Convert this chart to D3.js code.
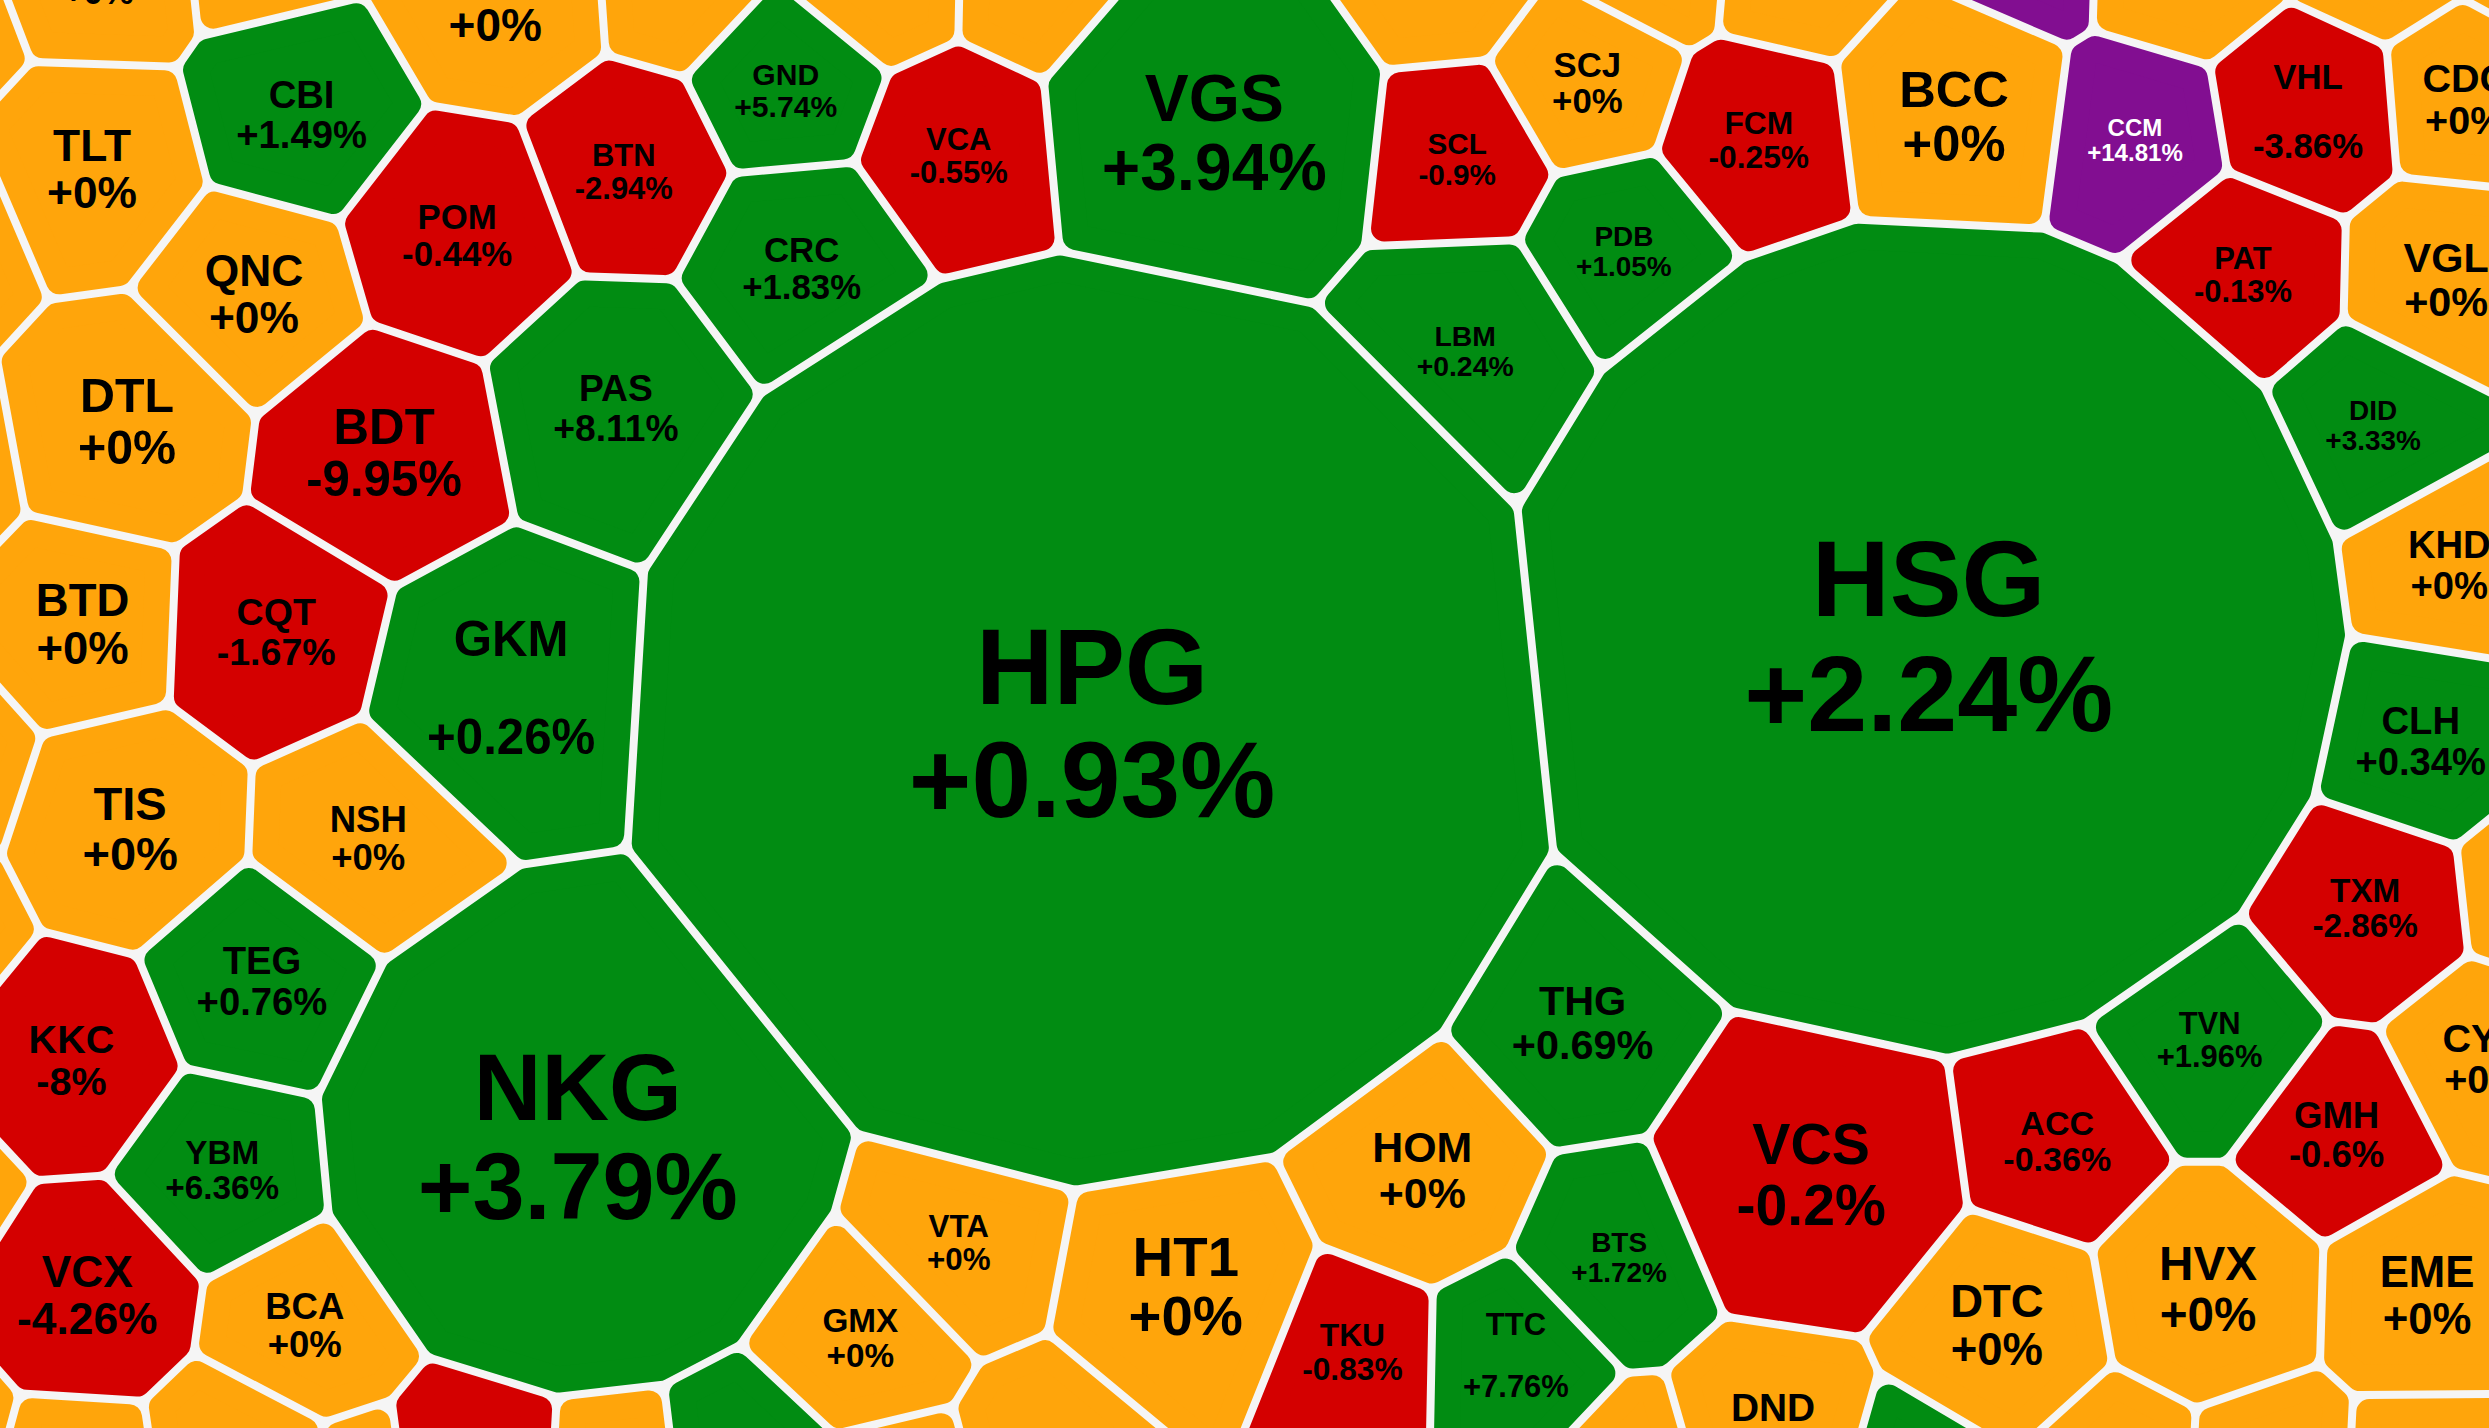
<!DOCTYPE html>
<html>
<head>
<meta charset="utf-8">
<script src="https://cdn.jsdelivr.net/npm/d3@7/dist/d3.min.js"></script>
<style>
  html, body { margin: 0; padding: 0; background: #f5f5f5; overflow: hidden; }
  svg { display: block; }
  text { font-family: "Liberation Sans", Arial, sans-serif; font-weight: bold; }
</style>
</head>
<body>
<svg id="chart"></svg>
<script>
// ---- data ----
// tickers ("" = ticker outside the frame but value visible, null = no visible label)
const tickers = [
  "HPG","HSG","NKG","VGS","VCS","GKM","HT1","THG","HOM","BTS",
  "TKU","TTC","VTA","GMX","DND","DTC","HVX","EME","ACC","TVN",
  "GMH","TXM","CLH","KHD","DID","VGL","PAT","VHL","CDC","CCM",
  "BCC","FCM","SCJ","SCL","PDB","LBM","VCA","GND","CRC","BTN",
  "PAS","CBI","POM","TLT","QNC","DTL","BDT","BTD","CQT","TIS",
  "NSH","TEG","KKC","YBM","VCX","BCA","CYC",
  // partially visible neighbours (top, right, bottom, left edges)
  "",null,"",null,null,null,null,null,null,null,null,null,null,
  null,
  null,null,null,null,null,null,null,null,null,null,null,null,null,
  null,null,null,null,null,null,null
];
// % change for the session
const changes = [
  0.93, 2.24, 3.79, 3.94, -0.2, 0.26, 0, 0.69, 0, 1.72,
  -0.83, 7.76, 0, 0, 0, 0, 0, 0, -0.36, 1.96,
  -0.6, -2.86, 0.34, 0, 3.33, 0, -0.13, -3.86, 0, 14.81,
  0, -0.25, 0, -0.9, 1.05, 0.24, -0.55, 5.74, 1.83, -2.94,
  8.11, 1.49, -0.44, 0, 0, 0, -9.95, 0, -1.67, 0,
  0, 0.76, -8, 6.36, -4.26, 0, 0,
  0, 0, 0, 0, 0, 0, 0, 0, 0, 14.9, 0, 0, 0,
  0,
  0, 0, 0, -1, 0, 1, 0, 0, 0, 1, 0, 0, 0,
  0, 0, 0, 0, 0, 0, 0
];
// relative weight of each stock (drives label size)
const weights = [
  45.6, 46.2, 34.8, 17.2, 13, 9.6, 12.6, 6.8, 7.3, 3.1,
  4, 3.8, 3.9, 4.4, 6, 8.2, 9, 7.6, 4.6, 3.8,
  5.3, 4.4, 5.8, 5.8, 3.1, 6.8, 3.8, 4.8, 6.2, 2.3,
  10.2, 4, 4.8, 3.5, 3.1, 3.2, 3.8, 3.6, 4.8, 3.8,
  5.5, 5.8, 4.8, 7.8, 7.8, 9.3, 9.6, 8.2, 5.6, 8.8,
  5.3, 5.8, 6.2, 4.4, 7.8, 5.3, 6.2,
  4.8, 4, 8.4, 4, 4, 4, 4, 4, 4, 4, 4, 4, 4,
  4,
  4, 4, 4, 4, 4, 4, 4, 4, 4, 4, 4, 4, 4,
  4, 4, 4, 4, 4, 4, 4
];
// layout seeds of the weighted Voronoi (power) diagram, in reference units (1568 x 900 frame)
const seedX = [
  688, 1215, 364, 765, 1141, 322, 747, 997, 896, 1020,
  852, 955, 604, 542, 1117, 1258, 1391, 1529, 1296, 1392,
  1472, 1490, 1525, 1543, 1495, 1541, 1413, 1454, 1553, 1345,
  1231, 1108, 1000, 918, 1023, 923, 604, 495, 505, 393,
  388, 190, 288, 58, 160, 80, 242, 52, 174, 82,
  232, 165, 45, 140, 55, 192, 1565,
  62, 166, 312, 426, 553, 655, 907, 1040, 1132, 1274, 1378, 1498, 1600,
  1600,
  48, 150, 225, 300, 388, 470, 565, 660, 1030, 1205, 1335, 1430, 1530,
  -35, -45, -55, -45, -50, -45, -45
];
const seedY = [
  455, 400, 716, 83, 740, 433, 810, 644, 737, 792,
  852, 854, 783, 843, 900, 835, 812, 816, 719, 655,
  715, 572, 467, 356, 268, 176, 173, 70, 62, 88,
  73, 88, 52, 100, 158, 221, 98, 57, 169, 108,
  257, 72, 148, 106, 185, 265, 285, 393, 398, 522,
  528, 618, 668, 737, 816, 835, 667,
  -17, -28, 0, -8, -14, -12, -18, -25, -17, -27, -24, -26, -25,
  560,
  930, 915, 935, 925, 930, 920, 940, 915, 925, 925, 920, 925, 930,
  20, 150, 290, 480, 590, 752, 905
];
const seedR = [
  290, 260, 160, 104, 95, 88, 75, 69, 68, 62,
  55, 58, 60, 60, 62, 68, 68, 62, 62, 65,
  58, 62, 62, 58, 62, 62, 62, 60, 55, 58,
  72, 58, 54, 55, 58, 70, 58, 55, 68, 62,
  78, 68, 72, 68, 68, 72, 75, 60, 68, 68,
  68, 68, 65, 62, 65, 60, 55,
  60, 48, 66, 46, 48, 47, 53, 48, 48, 45, 58, 50, 45,
  50,
  50, 55, 40, 55, 48, 55, 50, 52, 45, 48, 48, 50, 50,
  45, 65, 62, 58, 55, 50, 50
];
const ceilingPct = 14.5;

// ---- drawing ----
const W = 2489, H = 1428;
const x = d3.scaleLinear().domain([0, 1568]).range([0, W]);
const y = d3.scaleLinear().domain([0, 900]).range([0, H]);
const r = d3.scaleLinear().domain([0, 1568]).range([0, W]);
const fontScale = d3.scaleSqrt().domain([0, 100]).range([0, 100 * W / 1568]);
const wideLabels = new Set(["GKM", "VHL", "TTC"]);

const colorOf = v => v >= ceilingPct ? "#820e91" : v > 0 ? "#018c12" : v < 0 ? "#d40000" : "#ffa50b";
const textColorOf = v => v >= ceilingPct ? "#ffffff" : "#000000";
const fmt = v => (v >= 0 ? "+" : "") + v + "%";

const svg = d3.select("#chart").attr("width", W).attr("height", H)
  .attr("viewBox", `0 0 ${W} ${H}`);
svg.append("rect").attr("width", W).attr("height", H).attr("fill", "#f5f5f5");

const gap = 8, corner = 13, inset = gap / 2 + corner;

const sites = tickers.map((t, i) => ({
  name: t, change: changes[i], font: fontScale(weights[i]),
  px: x(seedX[i]), py: y(seedY[i]), w: Math.pow(r(seedR[i]), 2)
}));

function clip(poly, nx, ny, c) {
  const out = [];
  for (let k = 0; k < poly.length; k++) {
    const a = poly[k], b = poly[(k + 1) % poly.length];
    const da = a[0] * nx + a[1] * ny - c, db = b[0] * nx + b[1] * ny - c;
    if (da <= 0) out.push(a);
    if ((da <= 0) !== (db <= 0)) {
      const t = da / (da - db);
      out.push([a[0] + t * (b[0] - a[0]), a[1] + t * (b[1] - a[1])]);
    }
  }
  return out;
}

function powerCell(i, off) {
  const s = sites[i];
  let poly = [[-400, -400], [W + 400, -400], [W + 400, H + 400], [-400, H + 400]];
  for (let j = 0; j < sites.length && poly.length; j++) {
    if (j === i) continue;
    const o = sites[j];
    const nx = o.px - s.px, ny = o.py - s.py;
    const d = Math.hypot(nx, ny);
    const c = (o.px * o.px + o.py * o.py - s.px * s.px - s.py * s.py - o.w + s.w) / 2;
    poly = clip(poly, nx / d, ny / d, c / d - off);
  }
  return poly;
}

sites.forEach((s, i) => { s.poly = powerCell(i, inset); });

const line = d3.line();
svg.append("g").selectAll("path").data(sites.filter(s => s.poly.length > 2)).join("path")
  .attr("d", s => line(s.poly) + "Z")
  .attr("fill", s => colorOf(s.change))
  .attr("stroke", s => colorOf(s.change))
  .attr("stroke-width", corner * 2)
  .attr("stroke-linejoin", "round");

const lab = svg.append("g").attr("text-anchor", "middle")
  .selectAll("g").data(sites.filter(s => s.name !== null)).join("g")
  .attr("fill", s => textColorOf(s.change))
  .attr("font-size", s => s.font);
const half = s => (wideLabels.has(s.name) ? 1.0 : 0.53) * s.font;
lab.append("text")
  .attr("x", s => s.px).attr("y", s => s.py - half(s))
  .attr("dy", "0.36em")
  .text(s => s.name);
lab.append("text")
  .attr("x", s => s.px).attr("y", s => s.py + half(s))
  .attr("dy", "0.36em")
  .text(s => fmt(s.change));
</script>
</body>
</html>
